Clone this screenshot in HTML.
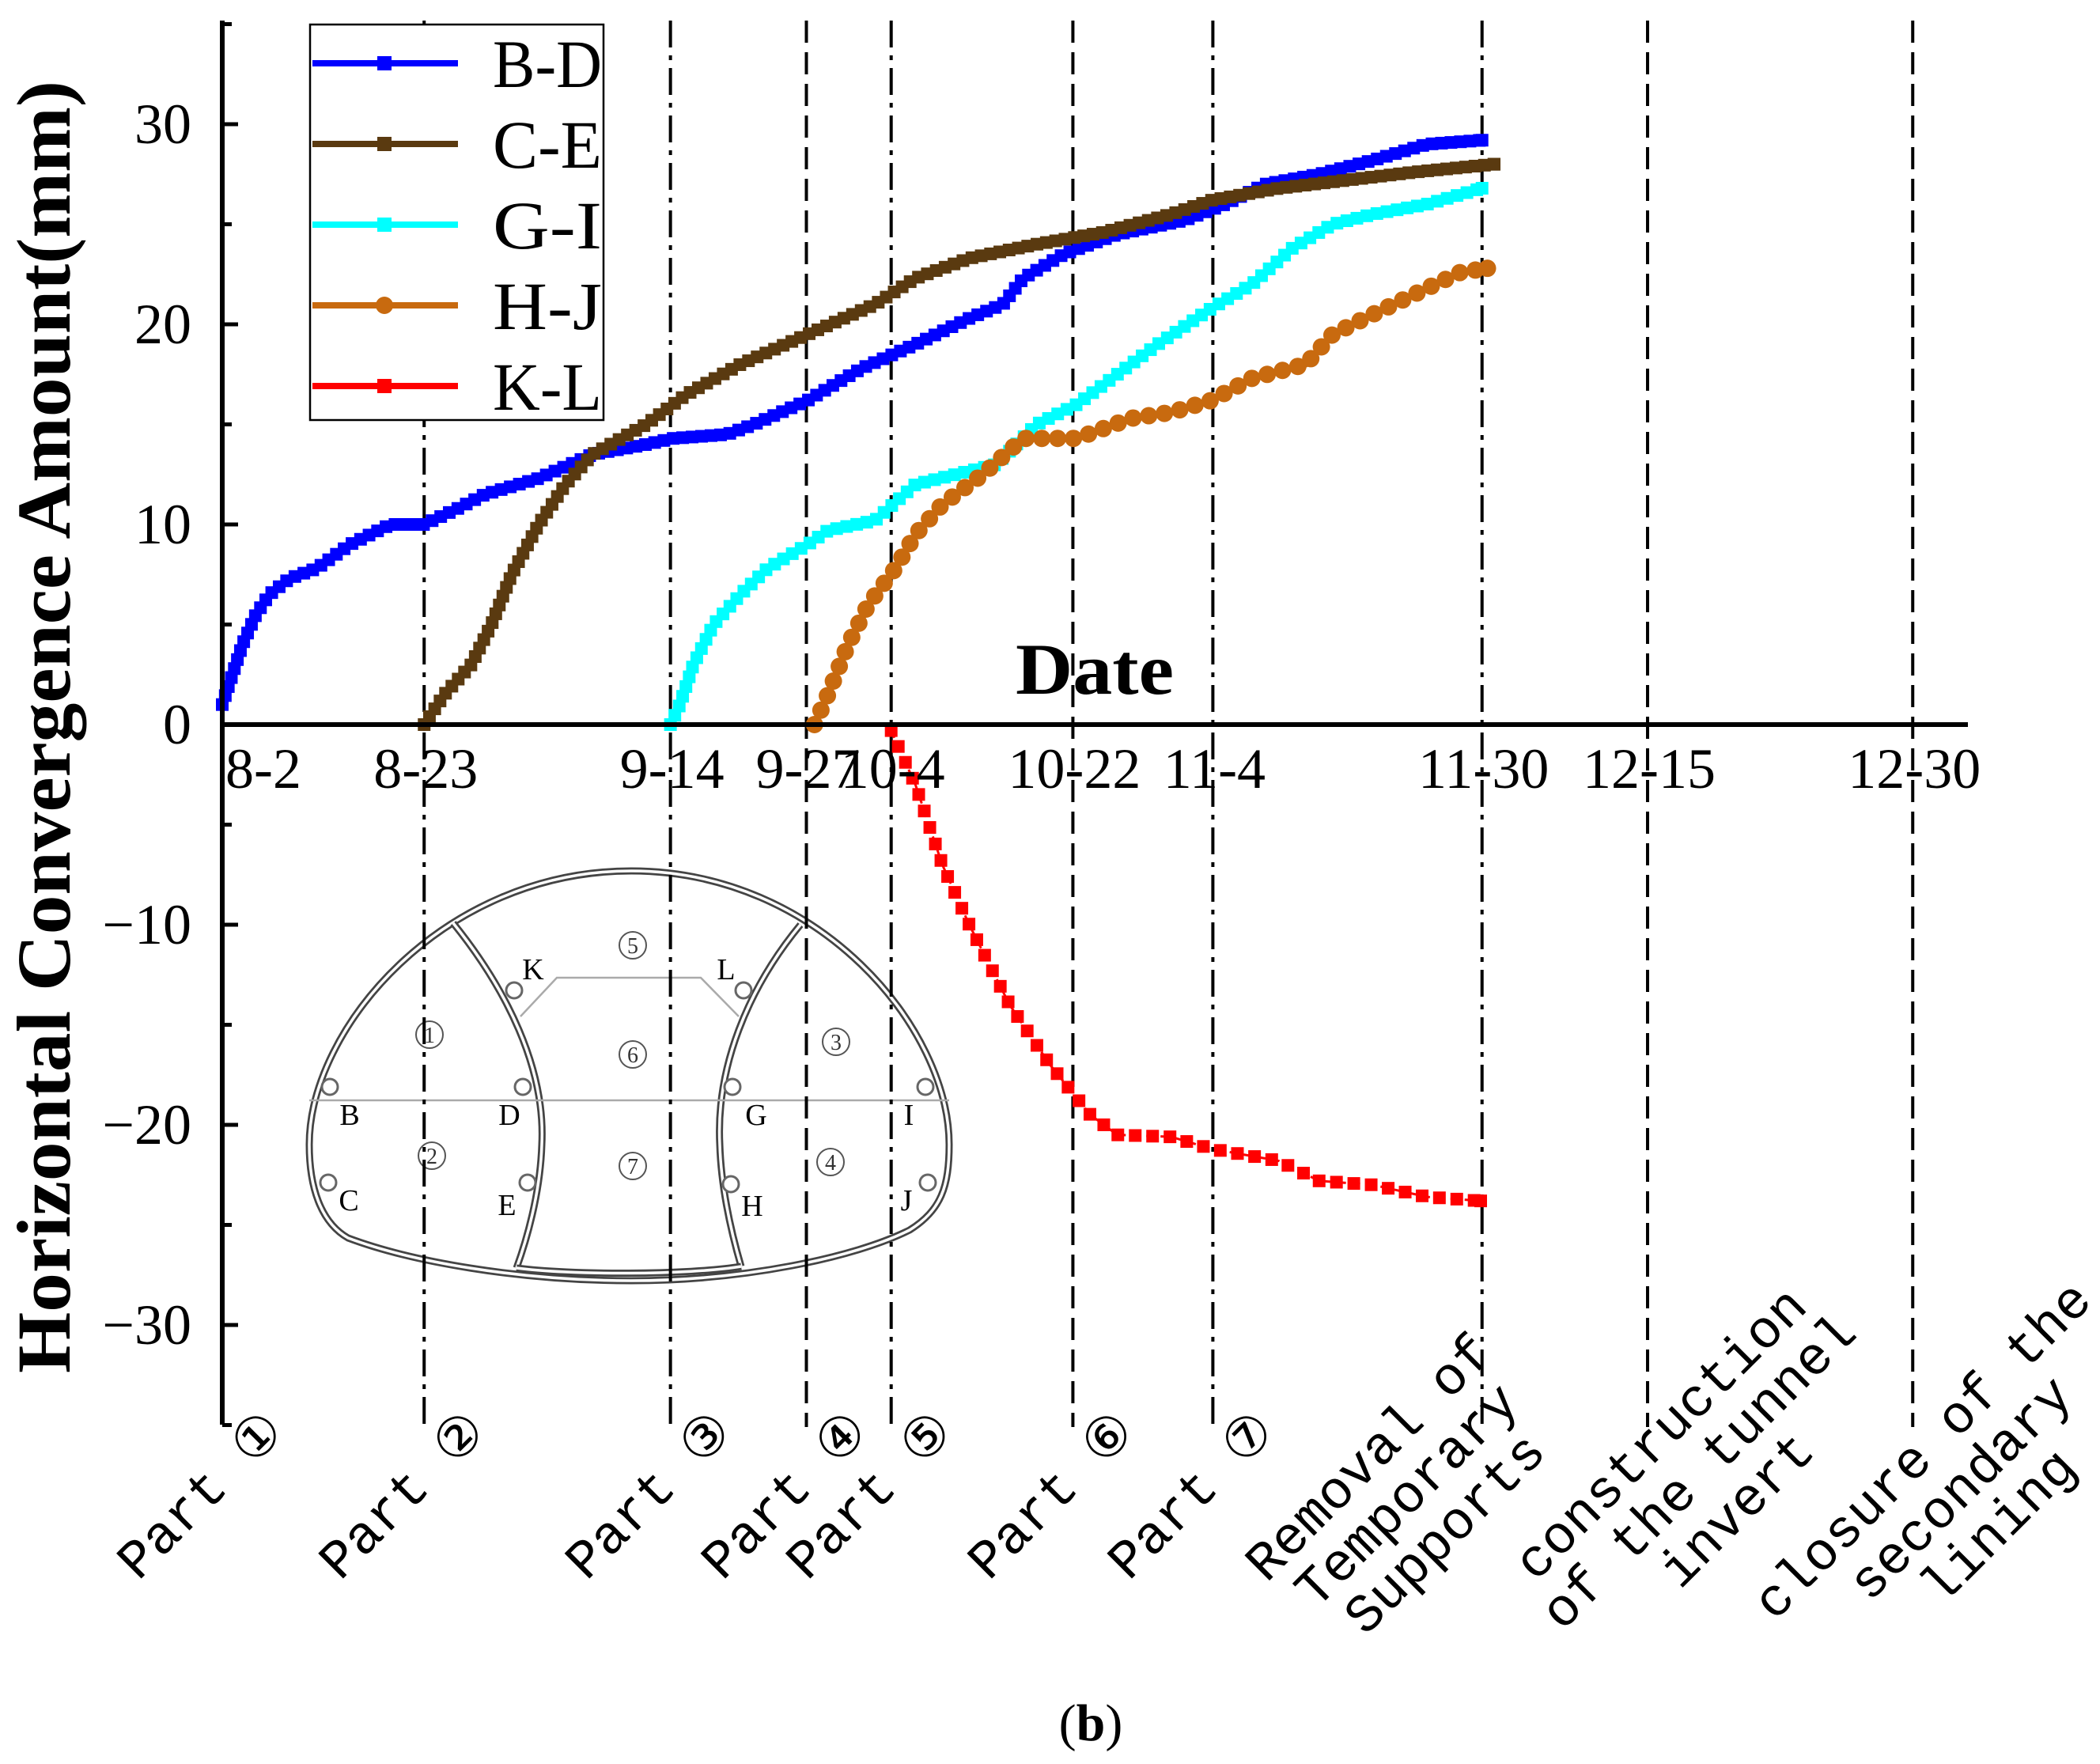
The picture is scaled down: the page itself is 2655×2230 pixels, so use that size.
<!DOCTYPE html>
<html><head><meta charset="utf-8"><style>
html,body{margin:0;padding:0;background:#fff;}
svg{display:block;}
</style></head><body>
<svg id="chart" width="2655" height="2230" viewBox="0 0 2655 2230" xmlns="http://www.w3.org/2000/svg">
<rect x="0" y="0" width="2655" height="2230" fill="#fff"/>
<g id="grid"></g>
<g id="tunnel"></g>
<g id="vlines"></g>
<g id="series"></g>
<g id="axes"></g>
<g id="legend"></g>
<g id="labels"></g>
</svg>
<script>
// ---- data (x in position units along the date axis, y in mm) ----
const tickLabels = ["8-2","8-23","9-14","9-27","10-4","10-22","11-4","11-30","12-15","12-30"];
const tickPos = [0,150,333,434,497,632,736,936,1059,1256];
const yTicks = [-30,-20,-10,0,10,20,30];
const partLabels = [["Part ①"],["Part ②"],["Part ③"],["Part ④"],["Part ⑤"],["Part ⑥"],["Part ⑦"],["Removal of","Temporary","Supports"],["construction","of the tunnel","invert"],["closure of the","secondary","lining"]];
const seriesNames = ["B-D","C-E","G-I","H-J","K-L"];
const bdX = [0,5,15,25,35,50,70,95,125,150,175,195,235,275,315,335,375,395,435,475,515,555,580,595,625,665,715,745,775,815,855,895,936];
const bdY = [1,2,4,5.5,6.5,7.3,7.8,9,10,10,10.8,11.5,12.3,13.5,14,14.3,14.5,15,16.2,17.8,19,20.3,21,22.3,23.5,24.5,25.2,26,27,27.5,28.2,29,29.2];
const ceX = [150,165,185,200,215,235,255,275,315,345,385,435,485,515,555,605,655,705,735,785,835,885,945];
const ceY = [0,1.5,3,5,7.5,10,12,13.5,15,16.5,18,19.5,21,22.3,23.3,24,24.6,25.5,26.2,26.8,27.2,27.6,28];
const giX = [333,340,350,365,385,405,435,450,485,515,545,575,605,635,665,695,735,765,795,825,855,895,936];
const giY = [0,1,3,5,6.5,7.8,9,9.7,10.2,12,12.5,13,15,16,17.5,19,20.8,22,23.8,25,25.5,26,26.8];
const hjX = [440,450,465,480,500,515,535,565,595,635,675,705,735,765,805,825,855,895,920,940];
const hjY = [0,1.5,4,6,7.8,9.5,11,12.5,14.3,14.3,15.3,15.6,16.2,17.3,18,19.5,20.5,21.8,22.6,22.8];
const klX = [497,515,535,555,585,615,645,665,705,735,785,815,855,895,935];
const klY = [-0.3,-3,-7,-10,-14,-17,-19.5,-20.5,-20.6,-21.2,-21.8,-22.8,-23,-23.6,-23.8];

const NS="http://www.w3.org/2000/svg";
function mk(tag, attrs, parent){const e=document.createElementNS(NS,tag);for(const k in attrs)e.setAttribute(k,attrs[k]);if(parent)parent.appendChild(e);return e;}
const X0=281, XU=2207/1297;
const Y0=916, YU=25.3;
function sx(v){return X0+v*XU;}
function sy(v){return Y0-v*YU;}
const yTop=26, yBot=1801;

// axes
const axes=document.getElementById('axes');
let yl=mk('line',{x1:X0,y1:yTop,x2:X0,y2:yBot,stroke:'#000','stroke-width':6},axes);


let xl=mk('line',{x1:X0,y1:Y0,x2:2488,y2:Y0,stroke:'#000','stroke-width':6},axes);


for(let v=-35;v<=35;v+=5){
  const major=(v%10===0);
  const t=mk('line',{x1:X0,y1:sy(v),x2:X0+(major?20:12),y2:sy(v),stroke:'#000','stroke-width':5},axes);
  
  
}
yTicks.forEach(v=>{
  const t=mk('text',{x:242,y:sy(v)+24,'text-anchor':'end','font-family':'Liberation Serif, serif','font-size':72},axes);
  t.textContent=(v<0?'\u2212'+(-v):String(v));
  
  
});
tickLabels.forEach((lab,i)=>{
  const x=i===0?sx(tickPos[i])+52:sx(tickPos[i])+2;
  const t=mk('text',{x:x,y:996,'text-anchor':'middle','font-family':'Liberation Serif, serif','font-size':72},axes);
  t.textContent=lab;
  
  
});
const yt=mk('text',{x:0,y:0,transform:'translate(88,919) rotate(-90)','text-anchor':'middle','font-family':'Liberation Serif, serif','font-weight':'bold','font-size':96,textLength:1634,lengthAdjust:'spacingAndGlyphs'},axes);
yt.textContent='Horizontal Convergence Amount(mm)';


const xt=mk('text',{x:1384,y:877,'text-anchor':'middle','font-family':'Liberation Serif, serif','font-weight':'bold','font-size':92,textLength:200,lengthAdjust:'spacingAndGlyphs'},axes);
xt.textContent='Date';


const cap=mk('text',{x:1379,y:2200,'text-anchor':'middle','font-family':'Liberation Serif, serif','font-size':66},axes);
cap.innerHTML='(<tspan font-weight="bold">b</tspan>)';



// vertical lines
const vl=document.getElementById('vlines');
const dashStyles=['', '34,10,6,10','34,10,6,10','28,12','34,10,6,10','28,12','34,10,6,10','34,10,6,10','28,12','28,12'];
tickPos.forEach((p,i)=>{
  if(i===0)return;
  const l=mk('line',{x1:sx(p),y1:yTop,x2:sx(p),y2:1804,stroke:'#000','stroke-width':4,'stroke-dasharray':dashStyles[i]},vl);
  
  
});

// bottom rotated labels
const lb=document.getElementById('labels');
partLabels.forEach((lines,i)=>{
  let cx, cy;
  if(i<7){cx=sx(tickPos[i])-28; cy=1890;}
  else if(i===7){cx=1778; cy=1890;}
  else if(i===8){cx=2147; cy=1860;}
  else {cx=2478; cy=1881;}
  const g=mk('g',{transform:'translate('+cx+','+cy+') rotate(-45)'},lb);
  
  
  lines.forEach((ln,j)=>{
    const t=mk('text',{x:0,y:(j-(lines.length-1)/2)*68+22,'text-anchor':'middle','font-family':'Liberation Mono, monospace','font-size':68},g);
    t.textContent=ln;
  });
});

// series
const sg=document.getElementById('series');
function poly(xs,ys){return xs.map((x,i)=>[sx(x),sy(ys[i])]);}
function resample(pts,step){
  const out=[pts[0]];let carry=0;
  for(let i=1;i<pts.length;i++){
    const [x1,y1]=pts[i-1],[x2,y2]=pts[i];const d=Math.hypot(x2-x1,y2-y1);
    let t=step-carry;
    while(t<=d){out.push([x1+(x2-x1)*t/d,y1+(y2-y1)*t/d]);t+=step;}
    carry=d-(t-step);
  }
  out.push(pts[pts.length-1]);return out;
}
const seriesX=[bdX,ceX,giX,hjX,klX], seriesY=[bdY,ceY,giY,hjY,klY];
const colors=['#0000ff','#5a3a10','#00ffff','#c86a0f','#ff0000'];
const markers=['sq','sq','sq','ci','sq'];
const msize=[16,16,16,11,16], mstep=[12,12,13,20,22];
seriesNames.forEach((nm,i)=>{
  const g=mk('g',{},sg);
  
  
  const pts=poly(seriesX[i],seriesY[i]);
  const pl=mk('polyline',{points:pts.map(p=>p.join(',')).join(' '),fill:'none',stroke:colors[i],'stroke-width':i===4?3:8,'stroke-dasharray':i===4?'10,8':''},g);
  
  
  resample(pts,mstep[i]).forEach(p=>{
    let m;
    if(markers[i]==='sq') m=mk('rect',{x:p[0]-msize[i]/2,y:p[1]-msize[i]/2,width:msize[i],height:msize[i],fill:colors[i]},g);
    else m=mk('circle',{cx:p[0],cy:p[1],r:msize[i],fill:colors[i]},g);
    
    
  });
});

// legend
const lg=document.getElementById('legend');
const box=mk('rect',{x:392,y:31,width:371,height:500,fill:'#fff',stroke:'#000','stroke-width':2.5},lg);


seriesNames.forEach((nm,i)=>{
  const y=80+i*102;
  const g=mk('g',{},lg);
  
  
  mk('line',{x1:395,y1:y,x2:579,y2:y,stroke:colors[i],'stroke-width':8},g);
  if(markers[i]==='sq') mk('rect',{x:477,y:y-9,width:18,height:18,fill:colors[i]},g);
  else mk('circle',{cx:486,cy:y,r:11,fill:colors[i]},g);
  const t=mk('text',{x:623,y:y+30,'font-family':'Liberation Serif, serif','font-size':86,textLength:138,lengthAdjust:'spacingAndGlyphs'},g);
  t.textContent=nm;
});

// tunnel diagram
const tn=document.getElementById('tunnel');
function dbl(d){
  mk('path',{d:d,fill:'none',stroke:'#444','stroke-width':9},tn);
  mk('path',{d:d,fill:'none',stroke:'#fff','stroke-width':3.5},tn);
}
const outer='M391,1447 C391,1300 560,1101 798,1101 C1036,1101 1200,1300 1200,1447 C1200,1500 1190,1530 1150,1555 C1080,1590 940,1619 798,1619 C656,1619 520,1595 440,1565 C405,1545 391,1500 391,1447 Z';
mk('path',{d:outer,fill:'#fff',stroke:'none'},tn);
dbl(outer);
dbl('M573,1167 C640,1250 690,1350 685,1447 C683,1510 665,1570 653,1603');
dbl('M1012,1169 C945,1250 905,1350 910,1447 C912,1510 928,1570 937,1601');
dbl('M653,1603 C720,1612 870,1612 937,1601');
mk('line',{x1:391,y1:1391,x2:1200,y2:1391,stroke:'#aaa','stroke-width':2.5},tn);
mk('polyline',{points:'658,1285 704,1236 886,1236 934,1285',fill:'none',stroke:'#aaa','stroke-width':2.5},tn);
const ptNames=['B','D','G','I','C','E','H','J','K','L'];
const ptC=[[417,1374],[661,1374],[926,1374],[1170,1374],[415,1495],[667,1495],[924,1497],[1173,1495],[650,1252],[940,1252]];
const ptL=[[442,1422],[644,1422],[956,1422],[1149,1422],[441,1530],[641,1536],[951,1537],[1146,1530],[674,1238],[918,1238]];
ptNames.forEach((n,i)=>{
  mk('circle',{cx:ptC[i][0],cy:ptC[i][1],r:10,fill:'#fff',stroke:'#666','stroke-width':3},tn);
  const t=mk('text',{x:ptL[i][0],y:ptL[i][1],'text-anchor':'middle','font-family':'Liberation Serif, serif','font-size':38},tn);
  t.textContent=n;
});
const numC=[[543,1308],[546,1461],[1057,1317],[1050,1469],[800,1195],[800,1333],[800,1474]];
numC.forEach((c,i)=>{
  mk('ellipse',{cx:c[0],cy:c[1],rx:17,ry:17,fill:'none',stroke:'#555','stroke-width':2},tn);
  const t=mk('text',{x:c[0],y:c[1]+10,'text-anchor':'middle','font-family':'Liberation Serif, serif','font-size':28,fill:'#333'},tn);
  t.textContent=String(i+1);
});
</script>
</body></html>
